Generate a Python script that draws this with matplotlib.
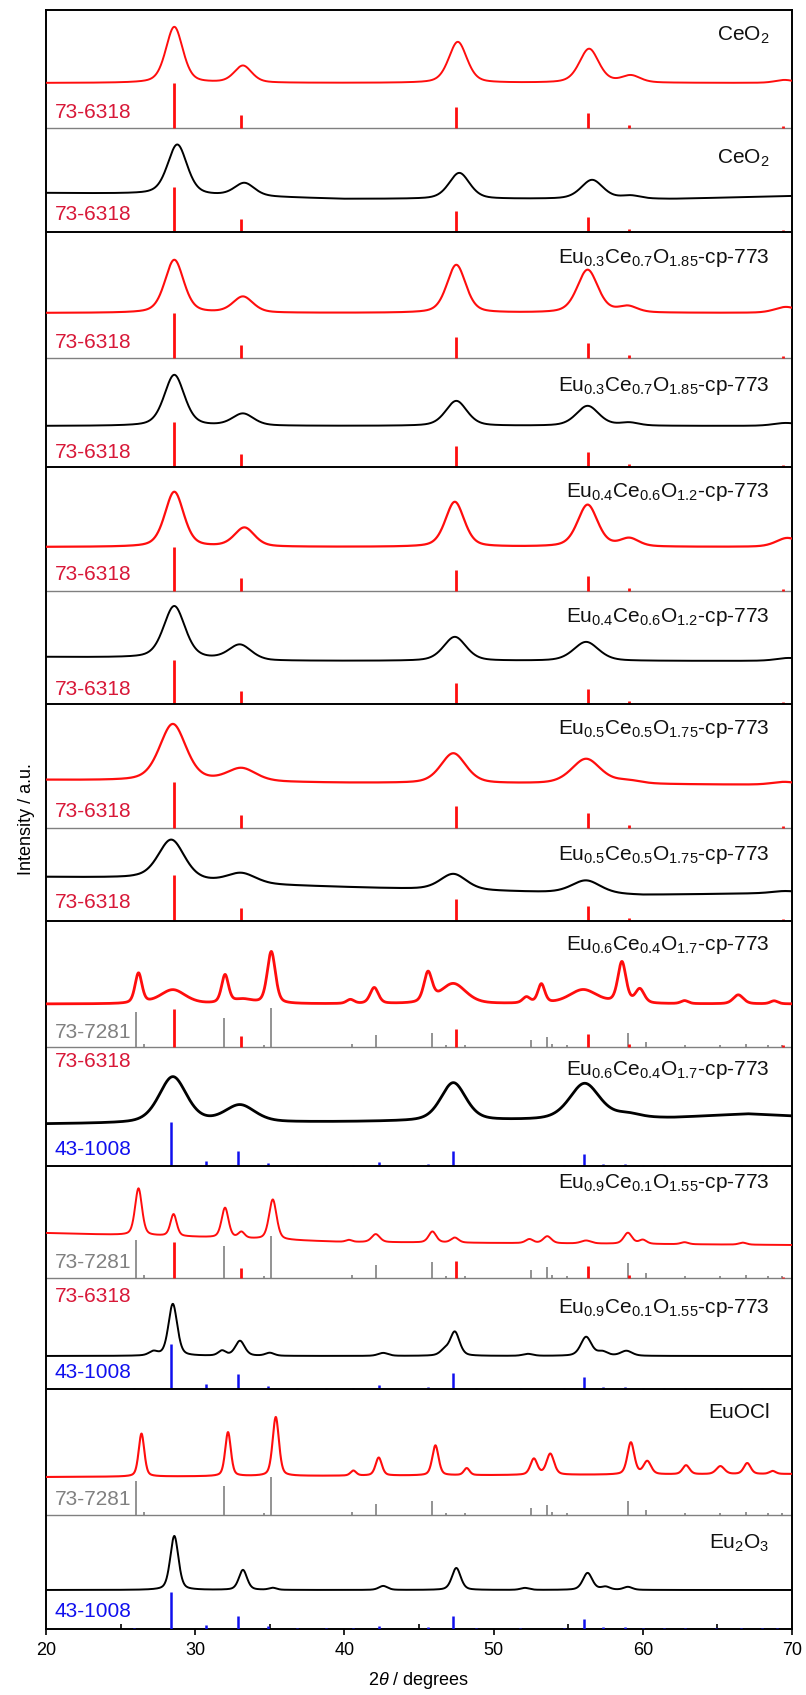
import numpy as np
import matplotlib
matplotlib.use("Agg")
import matplotlib.pyplot as plt

plt.rcParams["font.family"] = ["Liberation Sans", "DejaVu Sans"]
plt.rcParams["mathtext.fontset"] = "custom"
plt.rcParams["mathtext.rm"] = "Liberation Sans"
plt.rcParams["mathtext.it"] = "Liberation Sans:italic"
plt.rcParams["mathtext.default"] = "regular"

# ---- measured patterns: (2theta, intensity, fwhm) ----
ceo2_red = [(28.6, 56, 1.35), (33.2, 17, 1.4), (47.6, 41, 1.45), (56.4, 34, 1.55), (59.2, 7, 1.5), (69.5, 3, 1.5)]
ceo2_blk = [(28.8, 50, 1.55), (33.3, 13, 1.6), (47.7, 26, 1.65), (56.6, 19, 1.75), (59.2, 3, 1.5)]
eu3_red = [(28.6, 53, 1.5), (33.2, 16, 1.6), (47.5, 48, 1.5), (56.3, 43, 1.65), (59.0, 6, 1.5), (69.6, 6, 1.8)]
eu3_blk = [(28.6, 51, 1.6), (33.2, 12, 1.7), (47.5, 25, 1.7), (56.3, 20, 1.8), (59.1, 3, 1.5), (69.6, 3, 2.0)]
eu4_red = [(28.6, 55, 1.5), (33.3, 19, 1.6), (47.4, 45, 1.5), (56.3, 42, 1.6), (59.1, 8, 1.5), (69.7, 9, 1.8)]
eu4_blk = [(28.6, 52, 1.7), (33.0, 15, 1.8), (47.4, 24, 1.8), (56.2, 19, 2.0), (69.8, 3, 2.0)]
eu5_red = [(28.5, 57, 2.1), (33.1, 13, 2.3), (47.3, 30, 2.0), (56.2, 25, 2.3), (59.0, 3, 2.0), (69.5, 3, 2.0)]
eu5_blk = [(28.4, 40, 2.1), (33.1, 10, 2.3), (47.3, 16, 2.1), (56.2, 13, 2.3), (69.5, 2, 2.0)]
eu6_red = [(26.2, 30, 0.55), (28.5, 14, 2.0), (32.0, 28, 0.55), (33.2, 4, 1.5), (35.1, 52, 0.65),
           (40.4, 4, 0.6), (42.0, 16, 0.65), (45.6, 29, 0.65), (47.3, 20, 2.0), (52.2, 6, 0.6),
           (53.2, 19, 0.55), (56.0, 14, 2.2), (58.6, 41, 0.65), (59.8, 14, 0.7), (62.8, 3, 0.6),
           (66.4, 9, 0.8), (68.8, 3, 0.6)]
eu6_blk = [(28.5, 46, 2.2), (33.0, 17, 2.4), (47.3, 38, 2.0), (56.1, 36, 2.4), (59.0, 4, 2.0)]
eu9_red = [(26.2, 47, 0.55), (28.55, 22, 0.5), (32.0, 30, 0.55), (33.1, 6, 0.5), (35.2, 40, 0.6),
           (40.3, 2, 0.5), (42.1, 8, 0.65), (45.9, 11, 0.6), (47.4, 5, 0.6), (52.4, 4, 0.6),
           (53.6, 7, 0.65), (56.2, 3, 0.8), (59.0, 11, 0.65), (60.0, 4, 0.6), (62.8, 2, 0.6), (66.7, 2, 0.6)]
eu9_blk = [(27.2, 4, 0.7), (28.5, 52, 0.7), (31.8, 5, 0.6), (33.0, 15, 0.75), (35.0, 3, 0.7),
           (42.6, 3, 0.8), (46.7, 5, 0.7), (47.4, 24, 0.75), (52.3, 2, 0.8), (56.2, 19, 0.85),
           (57.3, 4, 0.8), (58.9, 5, 0.9)]
euocl = [(26.4, 43, 0.45), (32.2, 44, 0.45), (35.4, 59, 0.5), (40.6, 5, 0.45), (42.3, 18, 0.5),
         (46.1, 30, 0.5), (48.2, 7, 0.45), (52.7, 16, 0.55), (53.8, 21, 0.6), (59.2, 32, 0.55),
         (60.3, 13, 0.6), (62.9, 9, 0.55), (65.2, 8, 0.65), (67.0, 11, 0.55), (68.7, 3, 0.5)]
eu2o3 = [(28.6, 54, 0.65), (33.2, 20, 0.65), (35.2, 2, 0.6), (42.6, 4, 0.7), (47.5, 22, 0.7),
         (52.1, 2, 0.7), (56.3, 17, 0.75), (57.5, 3, 0.7), (59.0, 3, 0.7)]

# background levels: (2theta, level)
bg_flat = [(20, 0), (70, 0)]
bg_ceo2_blk = [(20, 6), (27, 5), (35, 2), (40, 0), (62, 0), (70, 3)]
bg_eu4_blk = [(20, 4), (28, 3), (35, 0), (70, 0)]
bg_eu5_red = [(20, 5), (40, 2), (70, 0)]
bg_eu5_blk = [(20, 18), (26, 17), (35, 10), (42, 7), (50, 4), (60, 0), (70, 2)]
bg_eu6_blk = [(20, -2), (40, 0), (55, 2), (62, 4), (67, 8), (70, 6)]
bg_eu9_red = [(20, 12), (30, 8), (40, 3), (50, 2), (70, 0)]
bg_euocl = [(20, 0), (70, 3)]

# ---- reference cards (2theta, relative intensity) ----
card_73_6318 = [(28.55, 100), (33.08, 29), (47.5, 47), (56.35, 33), (59.1, 7), (69.4, 4)]
card_73_7281 = [(26.0, 90), (26.6, 8), (31.9, 75), (34.6, 5), (35.1, 100), (40.5, 8), (42.1, 30),
                (45.9, 37), (46.8, 5), (48.1, 4), (52.5, 18), (53.6, 25), (53.9, 8), (54.9, 4),
                (59.0, 36), (60.2, 12), (62.8, 4), (65.2, 4), (66.9, 7), (68.4, 4), (69.3, 4)]
card_43_1008 = [(25.9, 2), (28.35, 100), (30.7, 12), (32.9, 34), (34.9, 7), (36.8, 2), (38.8, 2),
                (40.6, 2), (42.35, 9), (45.6, 5), (47.25, 35), (48.8, 3), (51.8, 3), (54.7, 3),
                (56.05, 27), (57.3, 5), (58.8, 5), (60.0, 2), (61.4, 2), (62.8, 2), (64.9, 2),
                (66.6, 2), (68.0, 2), (69.0, 2)]

sample_names = ["CeO$_2$", "CeO$_2$",
                "Eu$_{0.3}$Ce$_{0.7}$O$_{1.85}$-cp-773", "Eu$_{0.3}$Ce$_{0.7}$O$_{1.85}$-cp-773",
                "Eu$_{0.4}$Ce$_{0.6}$O$_{1.2}$-cp-773", "Eu$_{0.4}$Ce$_{0.6}$O$_{1.2}$-cp-773",
                "Eu$_{0.5}$Ce$_{0.5}$O$_{1.75}$-cp-773", "Eu$_{0.5}$Ce$_{0.5}$O$_{1.75}$-cp-773",
                "Eu$_{0.6}$Ce$_{0.4}$O$_{1.7}$-cp-773", "Eu$_{0.6}$Ce$_{0.4}$O$_{1.7}$-cp-773",
                "Eu$_{0.9}$Ce$_{0.1}$O$_{1.55}$-cp-773", "Eu$_{0.9}$Ce$_{0.1}$O$_{1.55}$-cp-773",
                "EuOCl", "Eu$_2$O$_3$"]

RED, BLUE, GREY = "#ff0d0d", "#1010ee", "#808080"
LBL_RED = "#d81838"

# ---- layout (image rows, axis runs top=10 to bottom=1629) ----
# (pattern, background, color, baseline row, label row, linewidth)
traces = [
    (ceo2_red, bg_flat, RED, 83, 35, 1.4),
    (ceo2_blk, bg_ceo2_blk, "k", 199, 158, 1.4),
    (eu3_red, bg_flat, RED, 313, 258, 1.5),
    (eu3_blk, bg_flat, "k", 426, 386, 1.4),
    (eu4_red, bg_flat, RED, 547, 492, 1.6),
    (eu4_blk, bg_eu4_blk, "k", 661, 617, 1.4),
    (eu5_red, bg_eu5_red, RED, 785, 729, 1.6),
    (eu5_blk, bg_eu5_blk, "k", 895, 855, 1.5),
    (eu6_red, bg_flat, RED, 1004, 945, 2.0),
    (eu6_blk, bg_eu6_blk, "k", 1122, 1070, 2.0),
    (eu9_red, bg_eu9_red, RED, 1245, 1183, 1.4),
    (eu9_blk, bg_flat, "k", 1356, 1308, 1.4),
    (euocl, bg_euocl, RED, 1477, 1413, 1.5),
    (eu2o3, bg_flat, "k", 1590, 1543, 1.4),
]
# (card, color, base row, full height, linewidth)
sticks = [
    (card_73_6318, RED, 128, 45, 2.0), (card_73_6318, RED, 232, 45, 2.0),
    (card_73_6318, RED, 358, 45, 2.0), (card_73_6318, RED, 467, 45, 2.0),
    (card_73_6318, RED, 591, 44, 2.0), (card_73_6318, RED, 704, 44, 2.0),
    (card_73_6318, RED, 828, 46, 2.0), (card_73_6318, RED, 921, 46, 2.0),
    (card_73_7281, GREY, 1047, 39, 1.2), (card_73_6318, RED, 1047, 38, 2.0),
    (card_43_1008, BLUE, 1166, 44, 1.8),
    (card_73_7281, GREY, 1278, 42, 1.2), (card_73_6318, RED, 1278, 36, 2.0),
    (card_43_1008, BLUE, 1389, 45, 1.8),
    (card_73_7281, GREY, 1515, 38, 1.2),
    (card_43_1008, BLUE, 1629, 37, 1.8),
]
card_labels = [
    ("73-6318", LBL_RED, 112), ("73-6318", LBL_RED, 215), ("73-6318", LBL_RED, 342),
    ("73-6318", LBL_RED, 453), ("73-6318", LBL_RED, 575), ("73-6318", LBL_RED, 690),
    ("73-6318", LBL_RED, 812), ("73-6318", LBL_RED, 903),
    ("73-7281", GREY, 1033), ("73-6318", LBL_RED, 1062), ("43-1008", BLUE, 1150),
    ("73-7281", GREY, 1263), ("73-6318", LBL_RED, 1297), ("43-1008", BLUE, 1373),
    ("73-7281", GREY, 1500), ("43-1008", BLUE, 1612),
]
thick_rows = [232, 467, 704, 921, 1166, 1389]
thin_rows = [128, 358, 591, 828, 1047, 1278, 1515]


def pv(x, c, w, eta=0.4):
    d = (x - c) / w
    return eta / (1 + 4 * d ** 2) + (1 - eta) * np.exp(-4 * np.log(2) * d ** 2)


fig = plt.figure(figsize=(8.06, 16.95), dpi=100)
ax = fig.add_axes([46 / 806, 66 / 1695, 746 / 806, 1619 / 1695])
ax.set_xlim(20, 70)
ax.set_ylim(1629, 10)

tt = np.linspace(20, 70, 2501)
for (pat, bg, col, base, lab_y, lw), name in zip(traces, sample_names):
    bx, by = zip(*bg)
    y = np.interp(tt, bx, by)
    for c, h, w in pat:
        y = y + h * pv(tt, c, w)
    ax.plot(tt, base - y, color=col, lw=lw, zorder=3)
    ax.text(68.5, lab_y, name, ha="right", va="center", fontsize=15, color="#111111")

for card, col, base, full, lw in sticks:
    pos, inten = zip(*card)
    ax.vlines(pos, base, base - full * np.array(inten) / 100.0, color=col, lw=lw, zorder=4)

for txt, col, row in card_labels:
    ax.text(20.6, row, txt, ha="left", va="center", fontsize=15, color=col)

for r in thick_rows:
    ax.axhline(r, color="k", lw=1.4, zorder=5)
for r in thin_rows:
    ax.axhline(r, color=GREY, lw=1.0, zorder=2)

for s in ax.spines.values():
    s.set_linewidth(1.4)
ax.set_yticks([])
ax.set_xticks(range(20, 71, 10))
ax.set_xticks(range(25, 70, 10), minor=True)
ax.tick_params(axis="x", which="major", direction="out", length=4.5, width=1.2, labelsize=13, pad=5)
ax.tick_params(axis="x", which="minor", direction="in", length=3.5, width=1.2)
ax.set_xlabel(r"2$\mathit{\theta}$ / degrees", fontsize=13, labelpad=8)
ax.set_ylabel("Intensity / a.u.", fontsize=13, labelpad=8)

fig.savefig("out.png", dpi=100)
